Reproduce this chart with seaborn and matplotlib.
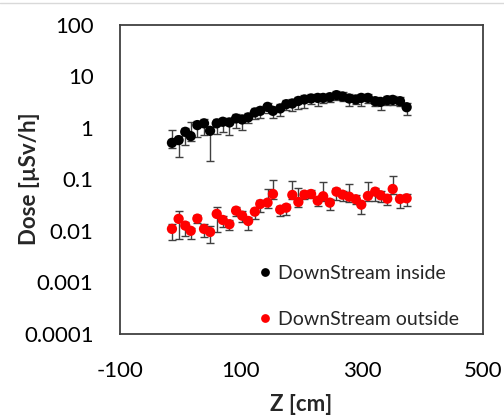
import numpy as np
import pandas as pd
import matplotlib
matplotlib.use('Agg')
import matplotlib.pyplot as plt
from matplotlib.lines import Line2D
import seaborn as sns

z = [-14, -3, 8, 17, 28, 39, 49, 60, 70, 81, 92, 102, 112, 123, 132, 144, 153, 165, 175,
     185, 195, 205, 216, 227, 236, 247, 258, 268, 279, 290, 299, 310, 322, 331, 342, 351, 363, 374]

inside = [0.507, 0.572, 0.829, 0.684, 1.12, 1.21, 0.867, 1.21, 1.30, 1.26, 1.51, 1.44, 1.58,
          1.97, 2.12, 2.53, 2.12, 2.36, 2.85, 2.94, 3.30, 3.52, 3.68, 3.78, 3.78, 3.90, 4.27,
          4.03, 3.68, 3.52, 3.78, 3.78, 3.26, 3.16, 3.41, 3.46, 3.26, 2.49]
inside_lo = [0.10, 0.30, 0.36, 0.14, 0.46, 0.50, 0.64, 0.47, 0.47, 0.55, 0.54, 0.56, 0.37,
             0.53, 0.57, 0.60, 0.57, 0.71, 0.67, 0.88, 1.00, 1.06, 0.74, 1.13, 0.76, 0.78,
             0.85, 0.81, 1.10, 0.70, 1.13, 0.76, 0.65, 0.95, 0.68, 0.69, 0.65, 0.75]
inside_hi = [0.40, 0.11, 0.16, 0.60, 0.22, 0.24, 0.17, 0.24, 0.26, 0.25, 0.30, 0.29, 0.32,
             0.39, 0.42, 0.51, 0.42, 0.47, 0.57, 0.59, 0.66, 0.70, 0.74, 0.76, 0.76, 0.78,
             0.85, 0.81, 0.74, 0.70, 0.76, 0.76, 0.65, 0.63, 0.68, 0.69, 0.65, 0.50]

outside = [0.0108, 0.0169, 0.0125, 0.0099, 0.0171, 0.0108, 0.0094, 0.0211, 0.0161, 0.0133,
           0.0244, 0.0195, 0.0154, 0.0233, 0.0329, 0.0349, 0.0514, 0.0255, 0.0279, 0.0492,
           0.0360, 0.0499, 0.0514, 0.0381, 0.0464, 0.0349, 0.0570, 0.0499, 0.0456, 0.0406,
           0.0319, 0.0470, 0.0570, 0.0485, 0.0417, 0.0643, 0.0411, 0.0424]
outside_lo = [0.0042, 0.0100, 0.0045, 0.0030, 0.0030, 0.0032, 0.0037, 0.0116, 0.0043, 0.0031,
              0.0049, 0.0046, 0.0051, 0.0063, 0.0099, 0.0070, 0.0100, 0.0060, 0.0075, 0.0090,
              0.0070, 0.0090, 0.0090, 0.0075, 0.0090, 0.0094, 0.0170, 0.0120, 0.0090, 0.0080,
              0.0105, 0.0090, 0.0200, 0.0130, 0.0098, 0.0120, 0.0136, 0.0127]
outside_hi = [0.0027, 0.0073, 0.0020, 0.0015, 0.0030, 0.0027, 0.0029, 0.0078, 0.0030, 0.0025,
              0.0045, 0.0040, 0.0030, 0.0045, 0.0060, 0.0300, 0.0450, 0.0050, 0.0055, 0.0430,
              0.0310, 0.0090, 0.0090, 0.0070, 0.0400, 0.0065, 0.0100, 0.0090, 0.0360, 0.0075,
              0.0060, 0.0410, 0.0100, 0.0090, 0.0080, 0.0510, 0.0075, 0.0080]

labels = ['DownStream inside', 'DownStream outside']
colors = {'DownStream inside': 'black', 'DownStream outside': 'red'}
x_ticks = [-100, 100, 300, 500]
y_ticks = [0.0001, 0.001, 0.01, 0.1, 1, 10, 100]
y_tick_labels = ['0.0001', '0.001', '0.01', '0.1', '1', '10', '100']

df = pd.DataFrame({
    'Z': z + z,
    'Dose': inside + outside,
    'Series': [labels[0]] * len(z) + [labels[1]] * len(z),
})

sns.set_theme(style='white')
plt.rcParams['font.family'] = ['Lato', 'DejaVu Sans']

fig = plt.figure(figsize=(5.04, 4.18), dpi=100)
ax = fig.add_axes([0.238, 0.202, 0.720, 0.739])

ax.errorbar(z, inside, yerr=[inside_lo, inside_hi], fmt='none', ecolor='#404040',
            elinewidth=1, capsize=3, capthick=1, zorder=1)
ax.errorbar(z, outside, yerr=[outside_lo, outside_hi], fmt='none', ecolor='#404040',
            elinewidth=1, capsize=3, capthick=1, zorder=1)
sns.scatterplot(data=df, x='Z', y='Dose', hue='Series', palette=colors, s=55,
                linewidth=0, zorder=3, ax=ax)

ax.set_yscale('log')
ax.set_xlim(-100, 500)
ax.set_ylim(0.0001, 100)
ax.set_xticks(x_ticks)
ax.set_xticklabels([str(t) for t in x_ticks])
ax.set_yticks(y_ticks)
ax.set_yticklabels(y_tick_labels)
ax.minorticks_off()
ax.tick_params(axis='both', direction='in', length=7, width=1, color='#404040',
               labelsize=16, labelcolor='black')
ax.tick_params(axis='y', pad=19)
ax.tick_params(axis='x', pad=20)
for sp in ax.spines.values():
    sp.set_color('#404040')
    sp.set_linewidth(1.3)

ax.set_xlabel('Z [cm]', fontsize=16, fontweight='bold')
ax.set_ylabel('Dose [µSv/h]', fontsize=16, fontweight='bold')
ax.xaxis.set_label_coords(0.5, -0.195)
ax.yaxis.set_label_coords(-0.22, 0.5)

ax.legend(loc='lower left', bbox_to_anchor=(0.386, 0.018), frameon=False, fontsize=14,
          handlelength=0.5, handletextpad=0.45, labelspacing=1.5, borderpad=0,
          borderaxespad=0, markerscale=0.85)

fig.add_artist(Line2D([0, 1], [1 - 3 / 418, 1 - 3 / 418], color='#d9d9d9', lw=1,
                      transform=fig.transFigure))

plt.savefig('out.png', dpi=100)
